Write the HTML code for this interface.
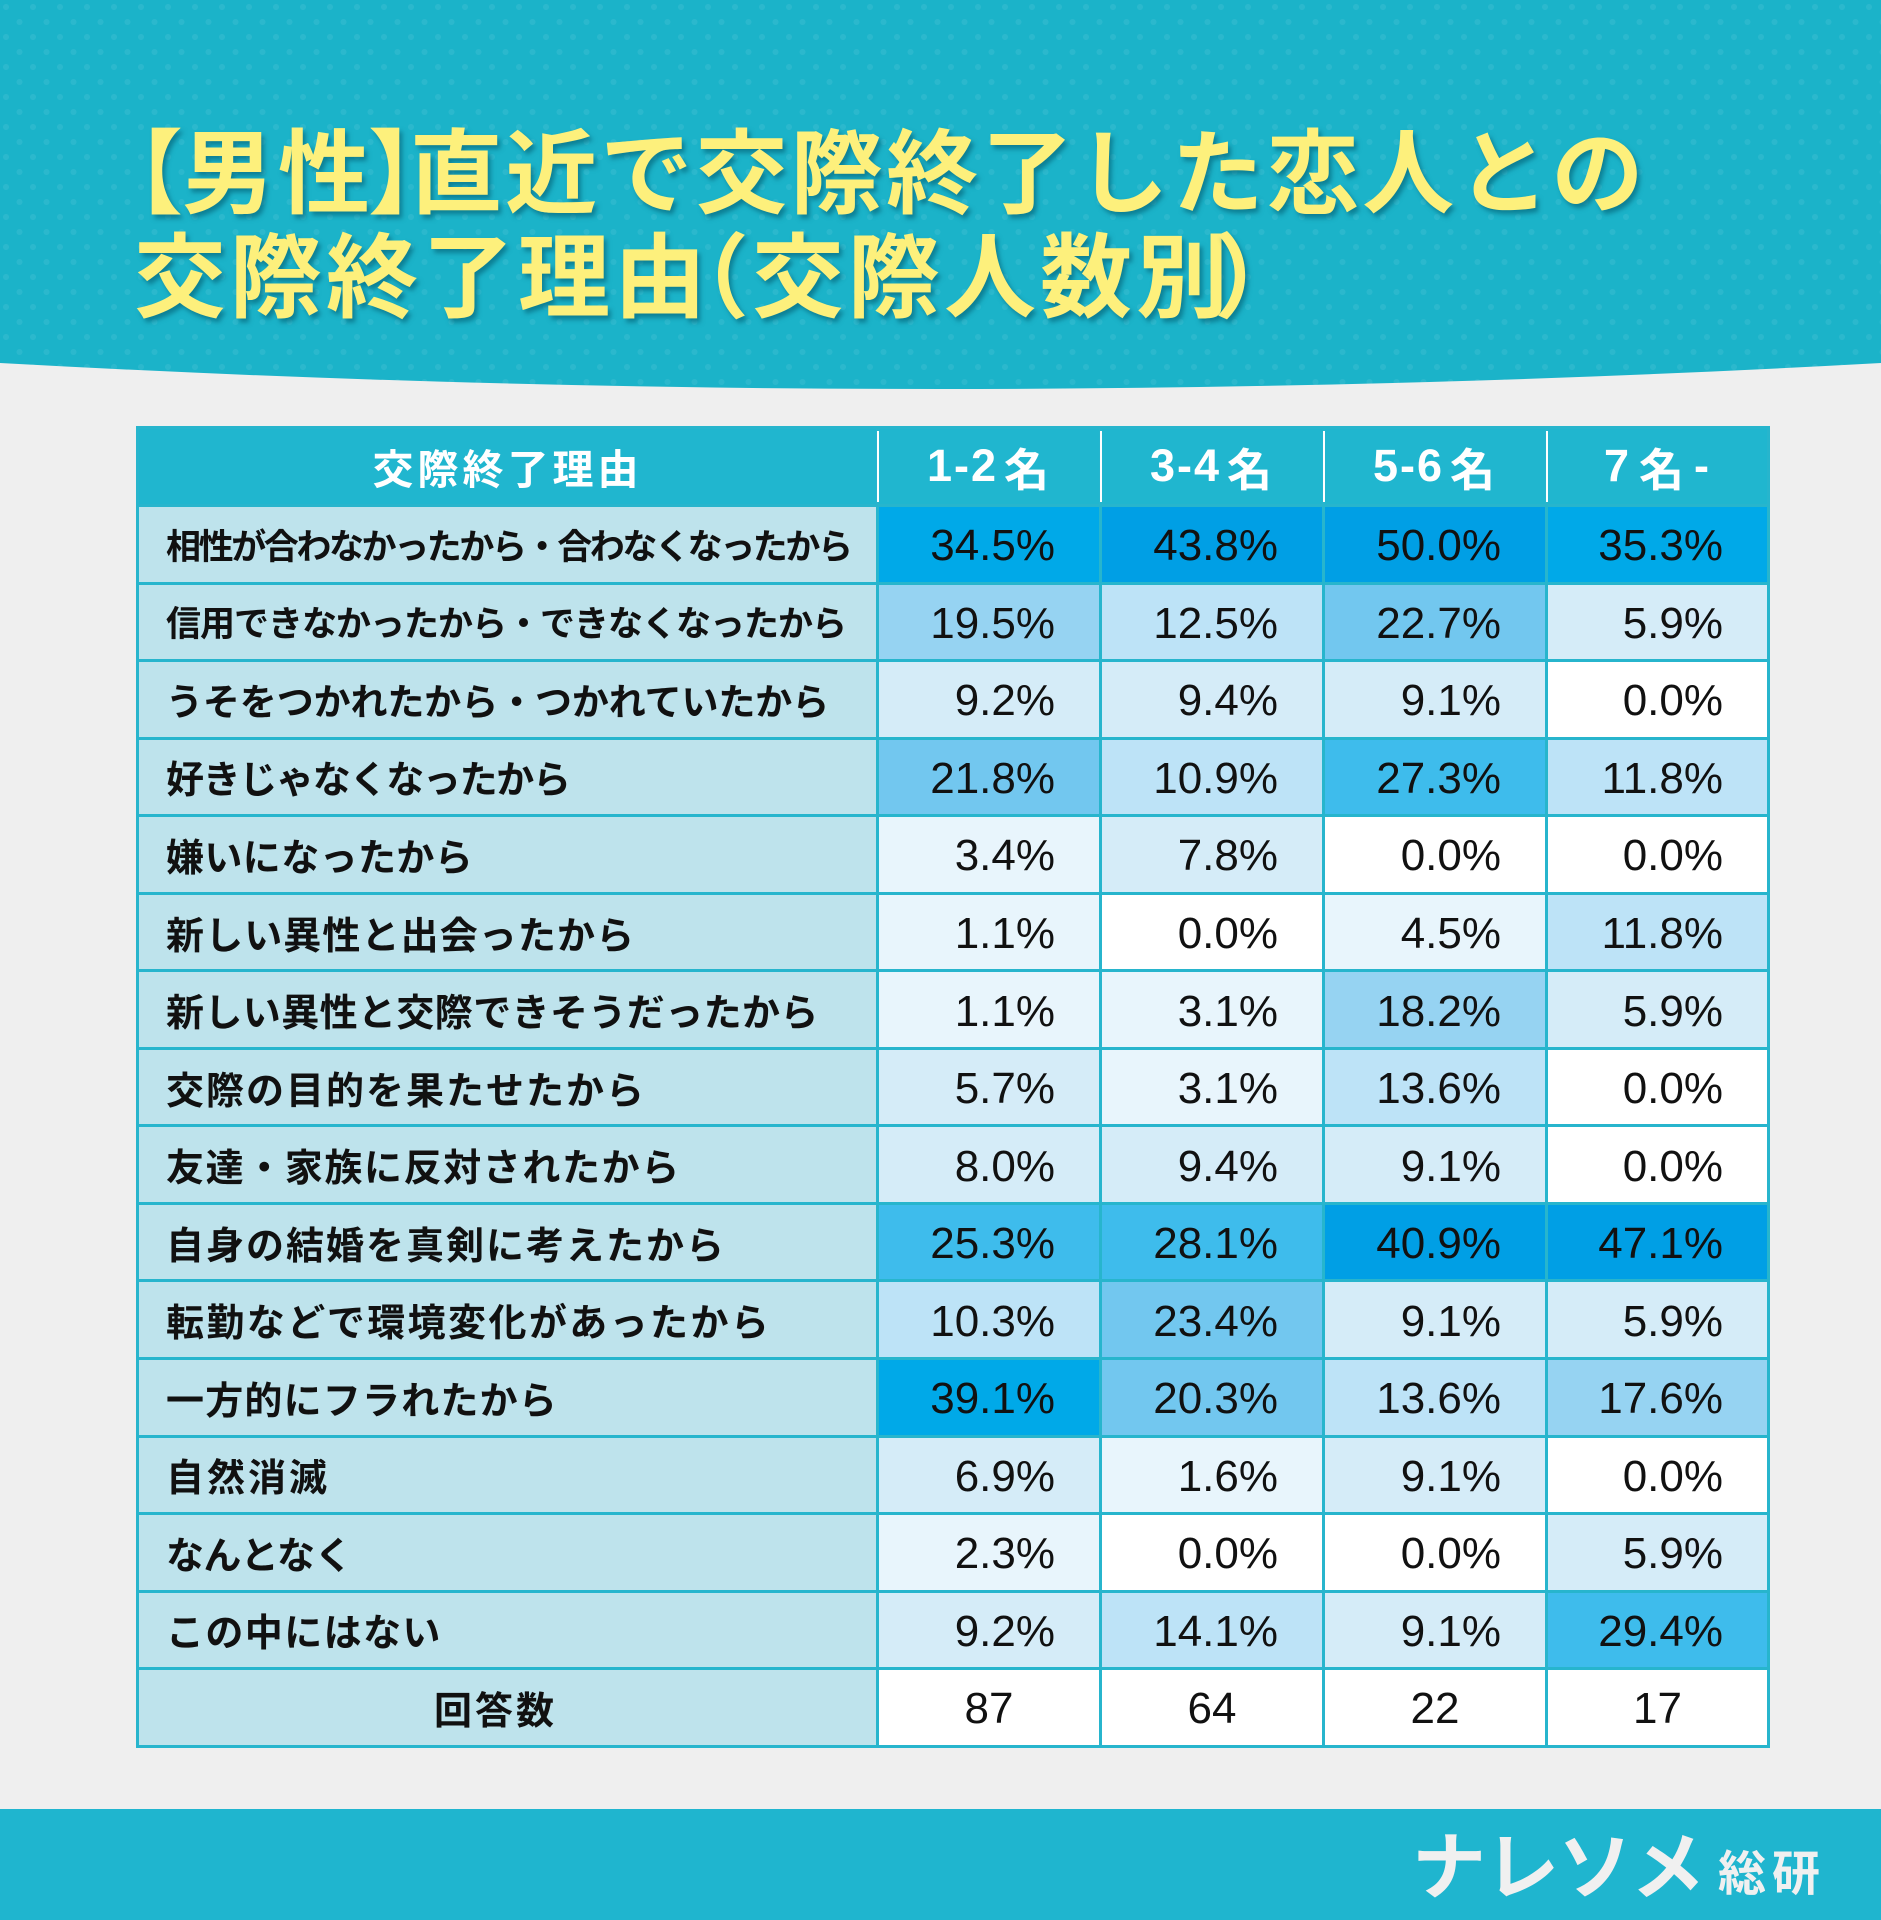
<!DOCTYPE html>
<html lang="ja">
<head>
<meta charset="utf-8">
<style>
  html,body{margin:0;padding:0;}
  body{width:1881px;height:1920px;position:relative;overflow:hidden;background:#efefef;
    font-family:"Liberation Sans","Noto Sans CJK JP",sans-serif;}
  .abs{position:absolute;}
  .title{position:absolute;height:92px;line-height:92px;font-size:92px;font-weight:700;color:#fdf07c;
    white-space:nowrap;font-family:"Noto Sans CJK JP","Liberation Sans",sans-serif;
    text-shadow:3px 4px 5px rgba(0,85,105,0.55);}
  .grid{position:absolute;left:136px;top:425.5px;width:1634px;height:1322.5px;box-sizing:border-box;
    background:#27b5cd;padding:3px;display:grid;gap:3px;
    grid-template-columns:737px 220px 220px 220px 219px;
    grid-template-rows:75.5px repeat(16,74.56px);}
  .grid>div{display:flex;align-items:center;box-sizing:border-box;white-space:nowrap;overflow:visible;}
  .h{background:#20b6cf;color:#fff;justify-content:center;font-weight:700;position:relative;}
  .h.c::before{content:"";position:absolute;left:-2.5px;top:2px;bottom:2px;width:2px;background:#fff;}
  .h1{font-size:41px;letter-spacing:4px;font-family:"Noto Sans CJK JP",sans-serif;}
  .hn{font-size:45px;letter-spacing:2px;font-family:"Liberation Sans","Noto Sans CJK JP",sans-serif;}
  .l{background:#bee3ec;color:#111;padding-left:27px;font-weight:700;
    font-family:"Noto Sans CJK JP",sans-serif;font-size:38px;}
  .v{justify-content:flex-end;padding-right:44px;padding-top:4px;font-size:44px;letter-spacing:0px;color:#111;
    font-family:"Liberation Sans",sans-serif;}
  .n{justify-content:center;font-size:44px;padding-top:4px;color:#111;background:#fff;font-family:"Liberation Sans",sans-serif;}
  .c0{background:#ffffff;}
  .c1{background:#e8f5fc;}
  .c2{background:#d5ecf8;}
  .c3{background:#bde3f7;}
  .c4{background:#96d3f2;}
  .c5{background:#72c7ef;}
  .c6{background:#3ebcec;}
  .c7{background:#00a9e8;}
  .c8{background:#009fe5;}
</style>
</head>
<body>

<svg class="abs" style="left:0;top:0" width="1881" height="420" viewBox="0 0 1881 420">
  <defs>
    <pattern id="dots" width="27" height="30" patternUnits="userSpaceOnUse">
      <circle cx="6" cy="7" r="3" fill="#ffffff" fill-opacity="0.07"/>
      <circle cx="19.5" cy="22" r="3" fill="#ffffff" fill-opacity="0.07"/>
    </pattern>
  </defs>
  <path d="M0 0 H1881 V363 Q940.5 415 0 363 Z" fill="#1bb3c9"/>
  <path d="M0 0 H1881 V363 Q940.5 415 0 363 Z" fill="url(#dots)"/>
</svg>

<div class="title" style="left:137px;top:121px;"><span style="margin-left:-46px;letter-spacing:-1px">【</span><span style="letter-spacing:4px">男</span><span style="letter-spacing:-2px">性</span><span style="letter-spacing:-50px">】</span><span style="letter-spacing:3.2px">直近で交際終了した恋人との</span></div>

<div class="title" style="left:134px;top:225px;"><span style="letter-spacing:4px">交際終了理</span><span style="letter-spacing:-49px">由</span><span style="letter-spacing:3px">（</span><span style="letter-spacing:4px">交際人数</span><span style="letter-spacing:-14px">別</span><span>）</span></div>

<div class="grid">
  <div class="h h1">交際終了理由</div>
  <div class="h hn c">1-2<span style="font-family:'Noto Sans CJK JP',sans-serif;margin-left:6px">名</span></div>
  <div class="h hn c">3-4<span style="font-family:'Noto Sans CJK JP',sans-serif;margin-left:6px">名</span></div>
  <div class="h hn c">5-6<span style="font-family:'Noto Sans CJK JP',sans-serif;margin-left:6px">名</span></div>
  <div class="h hn c">7<span style="font-family:'Noto Sans CJK JP',sans-serif;margin-left:8px;margin-right:8px">名</span>-</div>

  <div class="l" style="font-size:35px;letter-spacing:-2.4px">相性が合わなかったから・合わなくなったから</div>
  <div class="v c7">34.5%</div><div class="v c8">43.8%</div><div class="v c8">50.0%</div><div class="v c7">35.3%</div>

  <div class="l" style="font-size:35px;letter-spacing:-1px">信用できなかったから・できなくなったから</div>
  <div class="v c4">19.5%</div><div class="v c3">12.5%</div><div class="v c5">22.7%</div><div class="v c2">5.9%</div>

  <div class="l" style="font-size:37px;letter-spacing:-0.1px">うそをつかれたから・つかれていたから</div>
  <div class="v c2">9.2%</div><div class="v c2">9.4%</div><div class="v c2">9.1%</div><div class="v c0">0.0%</div>

  <div class="l" style="letter-spacing:-1.3px">好きじゃなくなったから</div>
  <div class="v c5">21.8%</div><div class="v c3">10.9%</div><div class="v c6">27.3%</div><div class="v c3">11.8%</div>

  <div class="l" style="letter-spacing:0.4px">嫌いになったから</div>
  <div class="v c1">3.4%</div><div class="v c2">7.8%</div><div class="v c0">0.0%</div><div class="v c0">0.0%</div>

  <div class="l" style="letter-spacing:1.1px">新しい異性と出会ったから</div>
  <div class="v c1">1.1%</div><div class="v c0">0.0%</div><div class="v c1">4.5%</div><div class="v c3">11.8%</div>

  <div class="l" style="letter-spacing:0.4px">新しい異性と交際できそうだったから</div>
  <div class="v c1">1.1%</div><div class="v c1">3.1%</div><div class="v c4">18.2%</div><div class="v c2">5.9%</div>

  <div class="l" style="letter-spacing:2px">交際の目的を果たせたから</div>
  <div class="v c2">5.7%</div><div class="v c1">3.1%</div><div class="v c3">13.6%</div><div class="v c0">0.0%</div>

  <div class="l" style="letter-spacing:1.6px">友達・家族に反対されたから</div>
  <div class="v c2">8.0%</div><div class="v c2">9.4%</div><div class="v c2">9.1%</div><div class="v c0">0.0%</div>

  <div class="l" style="letter-spacing:2px">自身の結婚を真剣に考えたから</div>
  <div class="v c6">25.3%</div><div class="v c6">28.1%</div><div class="v c8">40.9%</div><div class="v c8">47.1%</div>

  <div class="l" style="letter-spacing:2.4px">転勤などで環境変化があったから</div>
  <div class="v c3">10.3%</div><div class="v c5">23.4%</div><div class="v c2">9.1%</div><div class="v c2">5.9%</div>

  <div class="l" style="letter-spacing:1.2px">一方的にフラれたから</div>
  <div class="v c7">39.1%</div><div class="v c5">20.3%</div><div class="v c3">13.6%</div><div class="v c4">17.6%</div>

  <div class="l" style="letter-spacing:3px">自然消滅</div>
  <div class="v c2">6.9%</div><div class="v c1">1.6%</div><div class="v c2">9.1%</div><div class="v c0">0.0%</div>

  <div class="l" style="letter-spacing:-0.6px">なんとなく</div>
  <div class="v c1">2.3%</div><div class="v c0">0.0%</div><div class="v c0">0.0%</div><div class="v c2">5.9%</div>

  <div class="l" style="letter-spacing:1.4px">この中にはない</div>
  <div class="v c2">9.2%</div><div class="v c3">14.1%</div><div class="v c2">9.1%</div><div class="v c6">29.4%</div>

  <div class="l" style="justify-content:center;padding-left:0;padding-right:24px;letter-spacing:3px">回答数</div>
  <div class="n">87</div><div class="n">64</div><div class="n">22</div><div class="n">17</div>
</div>

<div class="abs" style="left:0;top:1809px;width:1881px;height:111px;background:#1fb5cf;"></div>
<div class="abs" style="left:1412px;top:1822px;height:80px;line-height:80px;font-size:74px;font-weight:700;color:#f0f0f0;letter-spacing:-1px;font-family:'Noto Sans CJK JP',sans-serif;white-space:nowrap;">ナレソメ</div>
<div class="abs" style="left:1718px;top:1839px;height:60px;line-height:60px;font-size:48px;font-weight:700;color:#f0f0f0;letter-spacing:6px;font-family:'Noto Sans CJK JP',sans-serif;white-space:nowrap;">総研</div>

</body>
</html>
